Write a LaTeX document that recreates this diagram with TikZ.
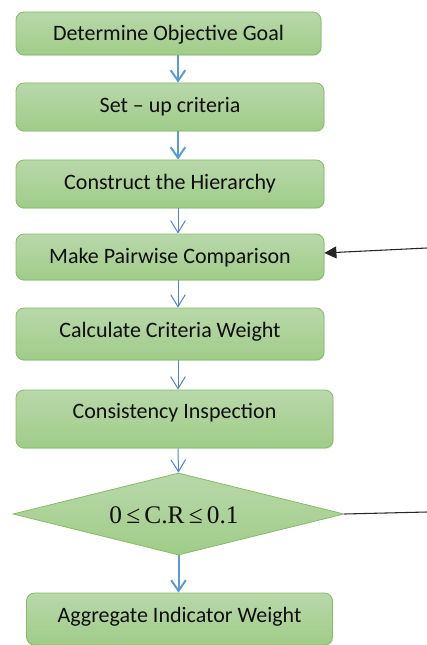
\documentclass[tikz,border=0pt]{standalone}
\usepackage{fontspec}
\setmainfont{Carlito}
\newfontfamily\seriff{Liberation Serif}
\usetikzlibrary{shapes.geometric,arrows.meta,shadows}
\definecolor{gtop}{RGB}{184,216,170}
\definecolor{gbot}{RGB}{160,204,136}
\definecolor{gline}{RGB}{134,188,100}
\definecolor{ablue}{RGB}{91,155,213}
\definecolor{tblue}{RGB}{80,130,210}
\definecolor{txt}{RGB}{15,15,15}
\tikzset{
  stepbox/.style={rectangle, rounded corners=6pt, draw=gline, line width=0.6pt,
    top color=gtop, bottom color=gbot, text=txt, inner sep=0pt,
    font=\fontsize{16.5}{19}\selectfont,
    drop shadow={opacity=0.18, shadow xshift=0.6pt, shadow yshift=-0.8pt}},
  steptext/.style={text=txt, inner sep=0pt, font=\fontsize{16.5}{19}\selectfont},
  decbox/.style={diamond, draw=gline, line width=0.6pt, aspect=4,
    top color=gtop, bottom color=gbot, text=txt, inner sep=0pt,
    font=\seriff\fontsize{19}{21}\selectfont},
  thickarr/.style={draw=ablue, line width=1.5pt, -{Straight Barb[length=8pt,width=11pt,line width=1.5pt]}},
  thinarr/.style={draw=tblue, line width=0.75pt, -{Straight Barb[length=9pt,width=11pt,line width=0.75pt]}},
  blackline/.style={draw=black!85, line width=0.8pt},
}
\begin{document}
\begin{tikzpicture}[x=0.75pt,y=-0.75pt]
\clip (0,0) rectangle (427,645);
\useasboundingbox (0,0) rectangle (427,645);
\node[stepbox, minimum width=228.75pt, minimum height=32.25pt] (b1) at (168.5,33.5) {};
\node[steptext] (t1) at (168.5,35) {Determine Objective Goal};
\node[stepbox, minimum width=231pt, minimum height=36pt] (b2) at (170,107) {};
\node[steptext] (t2) at (170,107) {Set -- up criteria};
\node[stepbox, minimum width=231pt, minimum height=36pt] (b3) at (170,184) {};
\node[steptext] (t3) at (170,184) {Construct the Hierarchy};
\node[stepbox, minimum width=231pt, minimum height=34.5pt] (b4) at (170,257) {};
\node[steptext] (t4) at (170,258) {Make Pairwise Comparison};
\node[stepbox, minimum width=231pt, minimum height=39pt] (b5) at (170,334) {};
\node[steptext] (t5) at (170,332) {Calculate Criteria Weight};
\node[stepbox, minimum width=237.75pt, minimum height=43.5pt] (b6) at (174.5,419) {};
\node[steptext] (t6) at (174.5,413) {Consistency Inspection};
\node[decbox, minimum width=248.25pt, minimum height=61.5pt] (d) at (178.5,514) {};
\node[text=txt, inner sep=0pt, font=\seriff\fontsize{19}{21}\selectfont] (td) at (174,515) {0\,≤\,C.R\,≤\,0.1};
\node[stepbox, minimum width=229.5pt, minimum height=39pt] (b7) at (179.5,619) {};
\node[steptext] (t7) at (179.5,617) {Aggregate Indicator Weight};
\coordinate (ax) at (178,0);
\coordinate (r1) at (427,248);
\coordinate (r2) at (427,512);
\coordinate (h4) at (0,253);
\draw[thickarr] (b1.south -| ax) -- (b2.north -| ax);
\draw[thickarr] (b2.south -| ax) -- (b3.north -| ax);
\draw[thinarr] (b3.south -| ax) -- (b4.north -| ax);
\draw[thinarr] (b4.south -| ax) -- (b5.north -| ax);
\draw[thinarr] (b5.south -| ax) -- (b6.north -| ax);
\draw[thinarr] (b6.south -| ax) -- (d.north);
\draw[thickarr] (d.south) -- (b7.north -| d.south);
\draw[blackline, -{Triangle[length=9pt,width=9pt]}] (r1) -- (b4.east |- h4);
\draw[blackline] (d.east) -- (r2);
\end{tikzpicture}
\end{document}
